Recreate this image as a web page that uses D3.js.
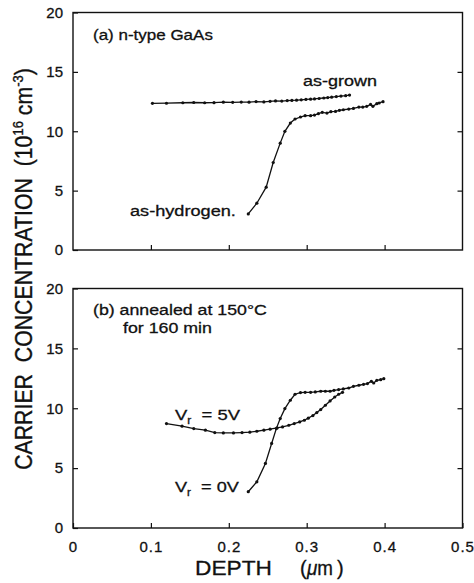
<!DOCTYPE html>
<html>
<head>
<meta charset="utf-8">
<script src="https://cdn.jsdelivr.net/npm/d3@7"></script>
<style>
  body { margin: 0; background: #fff; }
  text { font-family: "Liberation Sans", Arial, Helvetica, sans-serif; fill: #111; stroke: #111; stroke-width: 0.3px; white-space: pre; }
</style>
</head>
<body>
<div id="chart-area"></div>
<script>
// data (depth in um, concentration in 1e16 cm^-3)
var xTicks = [0, 0.1, 0.2, 0.3, 0.4, 0.5];
var yTicks = [0, 5, 10, 15, 20];

var grownDepth = [0.102, 0.120, 0.141, 0.155, 0.169, 0.181, 0.193, 0.205, 0.216, 0.226, 0.235, 0.245, 0.253, 0.260, 0.268,
    0.275, 0.281, 0.287, 0.293, 0.299, 0.305, 0.310, 0.316, 0.322, 0.327, 0.332, 0.338, 0.344, 0.350, 0.355];
var grownConc = [12.35, 12.36, 12.40, 12.42, 12.40, 12.41, 12.45, 12.44, 12.46, 12.45, 12.50, 12.47, 12.52, 12.55, 12.54,
    12.58, 12.60, 12.62, 12.65, 12.68, 12.70, 12.72, 12.76, 12.80, 12.84, 12.87, 12.92, 12.96, 13.00, 13.05];

var hydDepth = [0.225, 0.236, 0.248, 0.257, 0.266, 0.272, 0.279, 0.285, 0.292, 0.298, 0.305, 0.310, 0.315, 0.320, 0.326,
    0.331, 0.337, 0.342, 0.347, 0.354, 0.360, 0.367, 0.372, 0.377, 0.382, 0.385, 0.390, 0.393, 0.398];
var hydConc = [3.04, 3.94, 5.29, 7.37, 9.00, 9.99, 10.69, 11.03, 11.20, 11.31, 11.31, 11.36, 11.48, 11.59, 11.53,
    11.65, 11.67, 11.76, 11.81, 11.87, 11.92, 12.04, 12.04, 12.10, 12.26, 12.10, 12.32, 12.38, 12.49];

var v5Depth = [0.120, 0.140, 0.155, 0.170, 0.182, 0.193, 0.206, 0.217, 0.227, 0.236, 0.245, 0.253, 0.262, 0.269, 0.277,
    0.284, 0.291, 0.297, 0.302, 0.308, 0.313, 0.318, 0.324, 0.330, 0.336, 0.341, 0.346];
var v5Conc = [8.72, 8.50, 8.30, 8.17, 7.97, 7.94, 7.94, 7.97, 8.00, 8.08, 8.17, 8.25, 8.36, 8.44, 8.58,
    8.72, 8.86, 9.00, 9.17, 9.39, 9.64, 9.89, 10.25, 10.61, 10.94, 11.17, 11.33];

var v0Depth = [0.225, 0.236, 0.247, 0.255, 0.261, 0.266, 0.272, 0.279, 0.285, 0.292, 0.298, 0.305, 0.311, 0.318, 0.324,
    0.330, 0.335, 0.341, 0.347, 0.354, 0.360, 0.367, 0.373, 0.378, 0.383, 0.386, 0.390, 0.395, 0.399];
var v0Conc = [3.03, 3.86, 5.39, 7.06, 8.30, 9.14, 9.97, 10.67, 11.17, 11.31, 11.33, 11.33, 11.36, 11.42, 11.42,
    11.42, 11.50, 11.56, 11.61, 11.69, 11.83, 11.92, 12.00, 12.06, 12.25, 12.11, 12.33, 12.39, 12.47];

var W = 474, H = 583;
var svg = d3.select("#chart-area").append("svg")
    .attr("width", W)
    .attr("height", H);

var x = d3.scaleLinear().domain([0, 0.5]).range([73, 462.5]);

var panels = [
    { top: 12.5, bottom: 250, labels: false },
    { top: 288.5, bottom: 528, labels: true }
];

function pts(xs, ys) {
    return xs.map(function (d, i) { return [d, ys[i]]; });
}

panels.forEach(function (p) {
    p.y = d3.scaleLinear().domain([0, 20]).range([p.bottom, p.top]);
    var g = svg.append("g");

    // LEFT AXIS
    var left = g.append("g")
        .attr("transform", "translate(" + x(0) + ",0)")
        .call(d3.axisLeft(p.y).tickValues(yTicks).tickSize(-5).tickPadding(10));
    left.select(".domain").remove();
    left.selectAll("text").attr("font-size", "15px")
        .style("font-family", "Liberation Sans, Arial, sans-serif");

    // RIGHT AXIS (ticks only)
    var right = g.append("g")
        .attr("transform", "translate(" + x(0.5) + ",0)")
        .call(d3.axisRight(p.y).tickValues([5, 10, 15]).tickSize(-5).tickFormat(""));
    right.select(".domain").remove();

    // BOTTOM AXIS
    var bottom = g.append("g")
        .attr("transform", "translate(0," + p.bottom + ")")
        .call(d3.axisBottom(x).tickValues(p.labels ? xTicks : [0.1, 0.2, 0.3, 0.4]).tickSize(-5).tickPadding(13)
            .tickFormat(p.labels ? d3.format("") : ""));
    bottom.select(".domain").remove();
    bottom.selectAll("text").attr("font-size", "15px").attr("letter-spacing", "1px")
        .style("font-family", "Liberation Sans, Arial, sans-serif");

    g.selectAll(".tick line").attr("stroke", "#111").attr("stroke-width", 1.2);

    // FRAME
    g.append("rect")
        .attr("x", x(0)).attr("y", p.top)
        .attr("width", x(0.5) - x(0)).attr("height", p.bottom - p.top)
        .attr("fill", "none").attr("stroke", "#111").attr("stroke-width", 1.4);
});

function drawCurve(p, data) {
    var line = d3.line().x(function (d) { return x(d[0]); }).y(function (d) { return p.y(d[1]); });
    var g = svg.append("g");
    g.append("path")
        .datum(data)
        .attr("d", line)
        .attr("fill", "none")
        .attr("stroke", "#111")
        .attr("stroke-width", 1.3);
    g.selectAll("circle")
        .data(data)
        .enter().append("circle")
        .attr("cx", function (d) { return x(d[0]); })
        .attr("cy", function (d) { return p.y(d[1]); })
        .attr("r", 1.6)
        .attr("fill", "#111");
}

drawCurve(panels[0], pts(grownDepth, grownConc));
drawCurve(panels[0], pts(hydDepth, hydConc));
drawCurve(panels[1], pts(v5Depth, v5Conc));
drawCurve(panels[1], pts(v0Depth, v0Conc));

// text stretched sideways to the width it has in the scan
function label(lx, ly, size, width, build) {
    var t = svg.append("text").attr("font-size", size + "px");
    if (typeof build === "string") t.text(build); else build(t);
    var sx = width ? width / t.node().getComputedTextLength() : 1;
    t.attr("transform", "translate(" + lx + "," + ly + ") scale(" + sx + ",1)");
    return t;
}

function vr(t, v) {
    t.append("tspan").text("V");
    t.append("tspan").attr("font-size", "10px").attr("dy", 4).text("r");
    t.append("tspan").attr("dy", -4).text("  = " + v);
}

// PANEL TEXT
label(93, 40, 15, 120, "(a) n-type GaAs");
label(303, 86, 15, 74, "as-grown");
label(130, 216, 15, 106, "as-hydrogen.");
label(93, 315, 15, 174, "(b) annealed at 150°C");
label(123, 333, 15, 89, "for 160 min");
label(175, 420, 15.5, 65, function (t) { vr(t, "5V"); });
label(175, 492, 15.5, 64, function (t) { vr(t, "0V"); });

// X LABEL
label(195, 574.5, 20, 77, "DEPTH");
label(300, 574.5, 20, 0, "(");
label(307, 574.5, 20, 26, function (t) {
    t.append("tspan").style("font-style", "italic").text("μ");
    t.append("tspan").text("m");
});
label(337, 574.5, 20, 0, ")");

// Y LABEL
var yl = svg.append("text")
    .attr("transform", "translate(32,269) scale(1.15,1) rotate(-90)")
    .attr("font-size", "21.3px")
    .attr("text-anchor", "middle");
yl.append("tspan").text("CARRIER  CONCENTRATION  (10");
yl.append("tspan").attr("font-size", "13px").attr("dy", -8).text("16");
yl.append("tspan").attr("dy", 8).text(" cm");
yl.append("tspan").attr("font-size", "13px").attr("dy", -8).text("-3");
yl.append("tspan").attr("dy", 8).text(")");
</script>
</body>
</html>
